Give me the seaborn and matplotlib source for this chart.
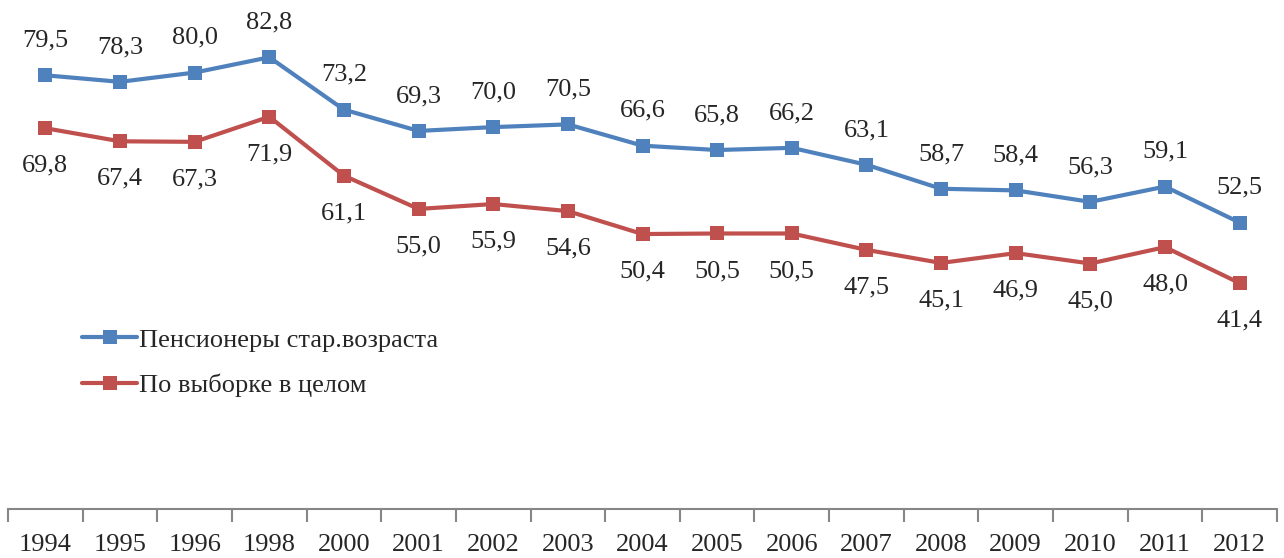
import numpy as np
import pandas as pd
import matplotlib.pyplot as plt
import seaborn as sns

years = ["1994", "1995", "1996", "1998", "2000", "2001", "2002", "2003", "2004",
         "2005", "2006", "2007", "2008", "2009", "2010", "2011", "2012"]
pensioners = [79.5, 78.3, 80.0, 82.8, 73.2, 69.3, 70.0, 70.5, 66.6,
              65.8, 66.2, 63.1, 58.7, 58.4, 56.3, 59.1, 52.5]
overall = [69.8, 67.4, 67.3, 71.9, 61.1, 55.0, 55.9, 54.6, 50.4,
           50.5, 50.5, 47.5, 45.1, 46.9, 45.0, 48.0, 41.4]
series_names = ["Пенсионеры стар.возраста", "По выборке в целом"]
colors = ["#4F81BD", "#C0504D"]

sns.set_style("white")
plt.rcParams["font.family"] = ["Liberation Serif", "DejaVu Serif"]

pos = np.arange(len(years))
df = pd.DataFrame({
    "pos": np.concatenate([pos, pos]),
    "value": pensioners + overall,
    "series": [series_names[0]] * len(years) + [series_names[1]] * len(years),
})

fig = plt.figure(figsize=(12.84, 5.58), dpi=100)
ax = fig.add_axes([8 / 1284, 49 / 558, 1269 / 1284, 491 / 558])
sns.lineplot(data=df, x="pos", y="value", hue="series", palette=colors,
             style="series", markers=["s", "s"], dashes=False,
             linewidth=3, markersize=10, markeredgewidth=0, ax=ax)

for i, v in enumerate(pensioners):
    ax.annotate(f"{v:.1f}".replace(".", ","), (pos[i], v), xytext=(0, 25),
                textcoords="offset points", ha="center", va="center", fontsize=19)
for i, v in enumerate(overall):
    ax.annotate(f"{v:.1f}".replace(".", ","), (pos[i], v), xytext=(0, -27),
                textcoords="offset points", ha="center", va="center", fontsize=19)

ax.set_xlim(-0.5, len(years) - 0.5)
ax.set_ylim(0, 90)
ax.set_xticks(pos)
ax.set_xticklabels(years, fontsize=19)
ax.set_xticks(np.arange(-0.5, len(years)), minor=True)
ax.tick_params(axis="x", which="major", length=0, pad=18)
ax.tick_params(axis="x", which="minor", length=9, width=1.5, color="#868686",
               direction="out", bottom=True)
ax.set_yticks([])
ax.set_xlabel("")
ax.set_ylabel("")
for s in ["top", "right", "left"]:
    ax.spines[s].set_visible(False)
ax.spines["bottom"].set_color("#868686")
ax.spines["bottom"].set_linewidth(1.5)

ax.legend(loc="upper left", bbox_to_anchor=(0.05, 0.39), frameon=False,
          fontsize=19, handlelength=2.1, handletextpad=0.05, labelspacing=0.85,
          borderaxespad=0)

fig.savefig("out.png", dpi=100)
